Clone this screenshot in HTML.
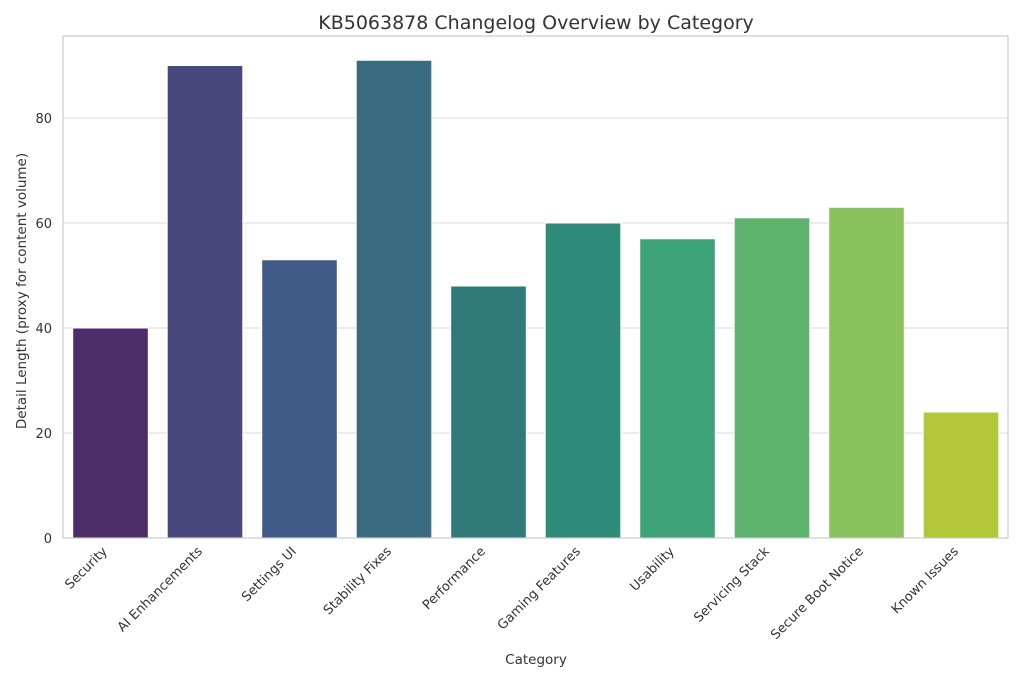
<!DOCTYPE html>
<html><head><meta charset="utf-8"><style>body{margin:0;background:#fff}</style></head><body>
<svg width="1024" height="683" xmlns="http://www.w3.org/2000/svg" font-family="DejaVu Sans, Liberation Sans, sans-serif">
<rect width="1024" height="683" fill="#fff"/>
<g stroke="#d9d9d9" stroke-width="1">
<line x1="63" x2="1008" y1="538" y2="538"/>
<line x1="63" x2="1008" y1="433" y2="433"/>
<line x1="63" x2="1008" y1="328" y2="328"/>
<line x1="63" x2="1008" y1="223" y2="223"/>
<line x1="63" x2="1008" y1="118" y2="118"/>
</g>
<g stroke="#fff" stroke-width="1">
<rect x="72.7" y="328" width="75.6" height="210" fill="#4c2c69"/>
<rect x="167.2" y="65.5" width="75.6" height="472.5" fill="#48487e"/>
<rect x="261.7" y="259.75" width="75.6" height="278.25" fill="#415b87"/>
<rect x="356.2" y="60.25" width="75.6" height="477.75" fill="#386b80"/>
<rect x="450.7" y="286" width="75.6" height="252" fill="#307a7a"/>
<rect x="545.2" y="223" width="75.6" height="315" fill="#2e8a79"/>
<rect x="639.7" y="238.75" width="75.6" height="299.25" fill="#3ea378"/>
<rect x="734.2" y="217.75" width="75.6" height="320.25" fill="#5db36e"/>
<rect x="828.7" y="207.25" width="75.6" height="330.75" fill="#89c25c"/>
<rect x="923.2" y="412" width="75.6" height="126" fill="#b3c838"/>
</g>
<rect x="63" y="36" width="945" height="502" fill="none" stroke="#cccccc" stroke-width="1.2"/>
<g font-size="13" fill="#333" text-anchor="end">
<text x="52" y="543">0</text><text x="52" y="438">20</text><text x="52" y="333">40</text><text x="52" y="228">60</text><text x="52" y="123">80</text>
</g>
<g font-size="13" fill="#333" text-anchor="end">
<text transform="translate(108,552) rotate(-45)">Security</text>
<text transform="translate(203,552) rotate(-45)">AI Enhancements</text>
<text transform="translate(297,552) rotate(-45)">Settings UI</text>
<text transform="translate(392,552) rotate(-45)">Stability Fixes</text>
<text transform="translate(486,552) rotate(-45)">Performance</text>
<text transform="translate(581,552) rotate(-45)">Gaming Features</text>
<text transform="translate(675,552) rotate(-45)">Usability</text>
<text transform="translate(770,552) rotate(-45)">Servicing Stack</text>
<text transform="translate(864,552) rotate(-45)">Secure Boot Notice</text>
<text transform="translate(959,552) rotate(-45)">Known Issues</text>
</g>
<text x="536" y="664" font-size="13.5" fill="#333" text-anchor="middle">Category</text>
<text transform="translate(26,291) rotate(-90)" font-size="13.5" fill="#333" text-anchor="middle">Detail Length (proxy for content volume)</text>
<text x="536" y="29" font-size="19" fill="#333" text-anchor="middle">KB5063878 Changelog Overview by Category</text>
</svg>
</body></html>
